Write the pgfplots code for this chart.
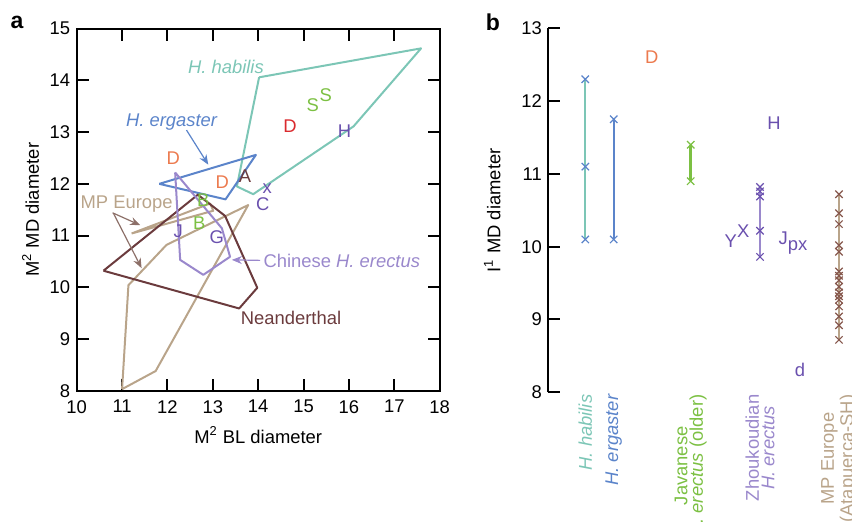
\documentclass[border=0pt]{standalone}
\usepackage{pgfplots}
\pgfplotsset{compat=1.18}
\usepackage{fontspec}
\setmainfont{Liberation Sans}
\usetikzlibrary{arrows.meta}
\definecolor{habcol}{HTML}{7CC6B6}
\definecolor{ergcol}{HTML}{5B84CA}
\definecolor{grncol}{HTML}{7CC043}
\definecolor{chnline}{HTML}{9A88CC}
\definecolor{purtxt}{HTML}{6A50AE}
\definecolor{neacol}{HTML}{6B3B3D}
\definecolor{mpcol}{HTML}{B9A48A}
\definecolor{mpmark}{HTML}{86574C}
\definecolor{mparrow}{HTML}{8C6F68}
\definecolor{orgcol}{HTML}{EC7A4E}
\definecolor{redcol}{HTML}{DA2A2E}
\newcommand{\fs}{\fontsize{9.2}{11}\selectfont}
\pgfplotsset{
  lettr/.style={only marks, mark=none, nodes near coords, point meta=explicit symbolic,
    nodes near coords align={center},
    every node near coord/.append style={text=#1, font=\fs, inner sep=0pt}},
  xm/.style={only marks, mark=x, mark size=2.6pt, mark options={line width=0.6pt, draw=#1}},
}
\begin{document}
\fs
\begin{tikzpicture}
% ---------- panel a ----------
\begin{axis}[
  at={(38.35pt,-195.35pt)}, anchor=south west,
  width=181.5pt, height=181pt, scale only axis,
  xmin=10, xmax=18, ymin=8, ymax=15,
  xtick={10,...,18}, ytick={8,...,15},
  axis line style={line width=1pt},
  tick style={line width=1pt, black},
  major tick length=6pt,
  tick align=inside,
  /pgf/number format/assume math mode=true,
  ticklabel style={font=\fs},
  xticklabel style={yshift=-1.5pt},
  label style={font=\fs},
  xlabel={M\textsuperscript{2} BL diameter}, ylabel={M\textsuperscript{2} MD diameter},
  xlabel shift=0.5pt, ylabel shift=-1pt,
  clip=false,
]
% H. habilis
\addplot[habcol, line width=1pt, line join=round] coordinates {
 (14.02,14.06) (17.59,14.62) (16.10,13.11) (13.89,11.80) (13.53,11.95) (14.02,14.06)};
% H. ergaster
\addplot[ergcol, line width=1pt, line join=round] coordinates {
 (11.82,12.00) (13.95,12.56) (13.28,11.70) (11.82,12.00)};
% MP Europe
\addplot[mpcol, line width=1pt, line join=round] coordinates {
 (11.00,8.03) (11.74,8.38) (13.78,11.59) (11.98,10.82) (11.14,10.04) (11.00,8.03)};
\addplot[mpcol, line width=1pt, line join=round] coordinates {
 (11.21,11.04) (12.94,11.62) (13.01,11.48) (11.21,11.04)};
% Neanderthal
\addplot[neacol, line width=1pt, line join=round] coordinates {
 (10.59,10.32) (13.58,9.59) (13.98,9.99) (13.27,11.38) (12.67,11.79) (10.59,10.32)};
% Chinese H. erectus
\addplot[chnline, line width=1pt, line join=round] coordinates {
 (12.17,12.22) (13.20,11.14) (13.38,10.59) (12.79,10.24) (12.28,10.53) (12.17,12.22)};
% letters
\addplot[lettr=orgcol] coordinates {(12.13,12.50)[D] (13.21,12.04)[D]};
\addplot[lettr=redcol] coordinates {(14.70,13.11)[D]};
\addplot[lettr=grncol] coordinates {(15.20,13.53)[S] (15.49,13.72)[S] (12.79,11.69)[B] (12.70,11.24)[B]};
\addplot[lettr=purtxt] coordinates {(14.20,11.91)[x] (14.10,11.61)[C] (15.90,13.01)[H] (13.09,10.97)[G] (12.24,11.08)[J]};
\addplot[lettr=neacol] coordinates {(13.71,12.14)[A]};
% annotations
\node[text=habcol, font=\fs\itshape] at (axis cs:13.29,14.27) {H. habilis};
\node[text=ergcol, font=\fs\itshape] at (axis cs:12.09,13.20) {H. ergaster};
\draw[ergcol, line width=0.6pt, -{Stealth[length=5pt,width=4pt]}] (axis cs:12.42,13.04) -- (axis cs:12.90,12.37);
\node[text=mpcol] at (axis cs:11.10,11.61) {MP Europe};
\draw[mparrow, line width=0.6pt, -{Stealth[length=5pt,width=4pt]}] (axis cs:10.79,11.44) -- (axis cs:11.40,11.20);
\draw[mparrow, line width=0.6pt, -{Stealth[length=5pt,width=4pt]}] (axis cs:10.81,11.43) -- (axis cs:11.43,10.37);
\node[text=chnline, anchor=west, inner sep=0pt] at (axis cs:14.11,10.50) {Chinese \textit{H. erectus}};
\draw[chnline, line width=0.6pt, -{Stealth[length=5pt,width=4pt]}] (axis cs:14.04,10.52) -- (axis cs:13.42,10.53);
\node[text=neacol, anchor=west, inner sep=0pt] at (axis cs:13.61,9.40) {Neanderthal};
\end{axis}
% ---------- panel b ----------
\begin{axis}[
  at={(274.15pt,-196.15pt)}, anchor=south west,
  width=151.85pt, height=182pt, scale only axis,
  xmin=0, xmax=30.37, ymin=8, ymax=13,
  axis y line*=left, axis x line*=bottom,
  x axis line style={draw=none},
  y axis line style={line width=1pt},
  ytick={8,...,13},
  ytick style={line width=1pt, black},
  major tick length=6pt,
  tick align=inside,
  xtick={3.70,6.54,14.24,21.17,29.07},
  xtick style={draw=none},
  xticklabels={
    {\color{habcol}\itshape H. habilis},
    {\color{ergcol}\itshape H. ergaster},
    {\color{grncol}Javanese\\\color{grncol}\textit{H. erectus} (older)},
    {\color{chnline}Zhoukoudian\\\color{chnline}\textit{H. erectus}},
    {\color{mpcol}MP Europe\\\color{mpcol}(Atapuerca-SH)}},
  xticklabel style={rotate=90, anchor=east, align=center, inner sep=1pt, font=\fontsize{9.2}{7.8}\selectfont},
  /pgf/number format/assume math mode=true,
  yticklabel style={font=\fs},
  label style={font=\fs},
  ylabel={I\textsuperscript{1} MD diameter},
  ylabel shift=4pt,
  clip=false,
]
\addplot[habcol, line width=1pt] coordinates {(3.70,10.10) (3.70,12.30)};
\addplot[xm=ergcol] coordinates {(3.70,10.10) (3.70,11.10) (3.70,12.30)};
\addplot[ergcol, line width=1pt] coordinates {(6.54,10.10) (6.54,11.75)};
\addplot[xm=ergcol] coordinates {(6.54,10.10) (6.54,11.75)};
\addplot[grncol, line width=1.5pt] coordinates {(14.24,10.90) (14.24,11.40)};
\addplot[xm=grncol] coordinates {(14.24,10.90) (14.24,11.40)};
\addplot[chnline, line width=1pt] coordinates {(21.17,9.86) (21.17,10.82)};
\addplot[xm=purtxt] coordinates {(21.17,9.86) (21.17,10.22) (21.17,10.69) (21.17,10.76) (21.17,10.82)};
\addplot[mpcol, line width=1pt] coordinates {(29.07,8.72) (29.07,10.72)};
\addplot[xm=mpmark] coordinates {(29.07,8.72) (29.07,8.92) (29.07,9.04) (29.07,9.18) (29.07,9.27)
 (29.07,9.32) (29.07,9.37) (29.07,9.45) (29.07,9.54) (29.07,9.60) (29.07,9.66)
 (29.07,9.93) (29.07,10.02) (29.07,10.31) (29.07,10.46) (29.07,10.72)};
\addplot[lettr=orgcol] coordinates {(10.34,12.61)[D]};
\addplot[lettr=purtxt] coordinates {(22.57,11.70)[H] (18.24,10.07)[Y] (19.50,10.22)[X] (25.17,8.31)[d]};
\addplot[only marks, mark=none, nodes near coords, point meta=explicit symbolic,
  nodes near coords align={anchor=west},
  every node near coord/.append style={text=purtxt, font=\fs, inner sep=0pt, anchor=west}]
  coordinates {(23.0,10.05)[{J\raisebox{-3pt}{px}}]};
\end{axis}
\node[font=\bfseries\fontsize{11.5}{13}\selectfont] at (8.5pt,-11pt) {a};
\node[font=\bfseries\fontsize{11.5}{13}\selectfont] at (246.5pt,-11pt) {b};
\pgfresetboundingbox
\useasboundingbox (0pt,0pt) rectangle (426pt,-261pt);
\end{tikzpicture}
\end{document}
